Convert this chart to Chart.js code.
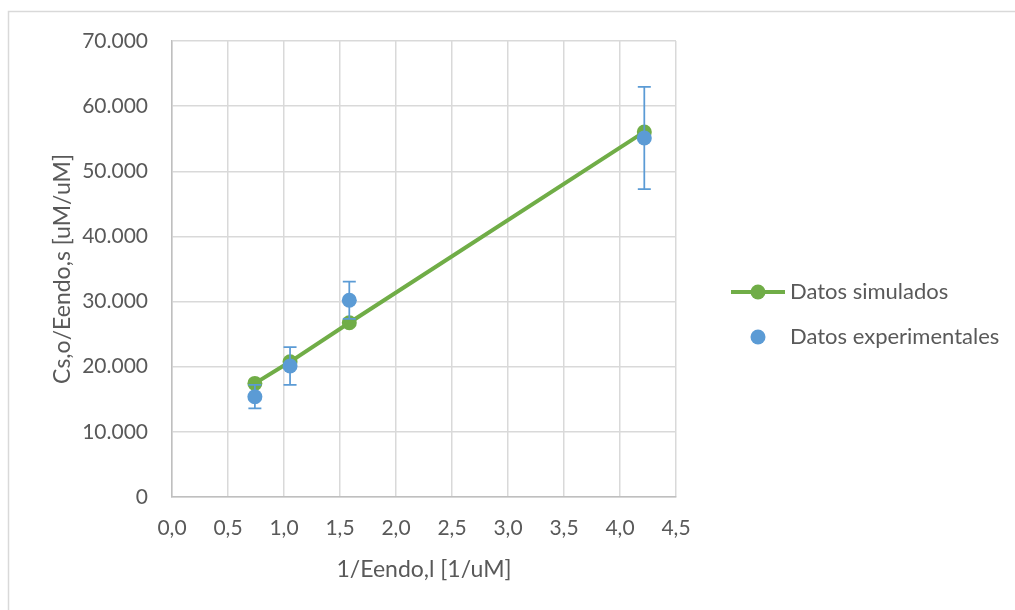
<!DOCTYPE html>
<html>
<head>
<meta charset="utf-8">
<script src="https://cdn.jsdelivr.net/npm/chart.js@4.4.1/dist/chart.umd.min.js"></script>
<style>
  html, body { margin: 0; padding: 0; background: #fff; overflow: hidden; }
  #wrap { width: 1015px; height: 610px; }
</style>
</head>
<body>
<div id="wrap"><canvas id="c" width="1015" height="610"></canvas></div>
<script>
// Simulated series (line + markers)
const simX = [0.74, 1.054, 1.583, 4.217];
const simY = [17440, 20750, 26750, 56040];

// Experimental series (markers + vertical error bars)
const expX = [0.74, 1.054, 1.583, 4.217];
const expY = [15400, 20100, 30200, 55100];
const expErr = [1800, 2900, 2850, 7850];

// Axis tick labels
const yTickLabels = ['0', '10.000', '20.000', '30.000', '40.000', '50.000', '60.000', '70.000'];
const xTickLabels = ['0,0', '0,5', '1,0', '1,5', '2,0', '2,5', '3,0', '3,5', '4,0', '4,5'];

const seriesNames = ['Datos simulados', 'Datos experimentales'];
const axisTitles = { x: '1/Eendo,l [1/uM]', y: 'Cs,o/Eendo,s [uM/uM]' };

const GREEN = '#70AD47';
const BLUE = '#5B9BD5';
const TEXT = '#595959';
const GRID = '#D9D9D9';
const FONT = 'Lato, "Open Sans", sans-serif';

const pts = (xs, ys) => xs.map((x, i) => ({ x: x, y: ys[i] }));

// White background and the frame's top/left edges
const framePlugin = {
  id: 'frame',
  beforeDraw(chart) {
    const ctx = chart.ctx;
    ctx.save();
    ctx.fillStyle = '#fff';
    ctx.fillRect(0, 0, chart.width, chart.height);
    ctx.strokeStyle = GRID;
    ctx.lineWidth = 1.5;
    ctx.beginPath();
    ctx.moveTo(8.5, chart.height);
    ctx.lineTo(8.5, 11.5);
    ctx.lineTo(chart.width, 11.5);
    ctx.stroke();
    ctx.restore();
  }
};

// Error bars drawn just before the experimental markers
const errorBarPlugin = {
  id: 'errorBars',
  beforeDatasetDraw(chart, args) {
    if (args.index !== 1) return;
    const ctx = chart.ctx;
    const xs = chart.scales.x, ys = chart.scales.y;
    ctx.save();
    ctx.strokeStyle = BLUE;
    ctx.lineWidth = 1.75;
    const cap = 6.5;
    expX.forEach((x, i) => {
      const px = xs.getPixelForValue(x);
      const top = ys.getPixelForValue(expY[i] + expErr[i]);
      const bot = ys.getPixelForValue(expY[i] - expErr[i]);
      ctx.beginPath();
      ctx.moveTo(px, top); ctx.lineTo(px, bot);
      ctx.moveTo(px - cap, top); ctx.lineTo(px + cap, top);
      ctx.moveTo(px - cap, bot); ctx.lineTo(px + cap, bot);
      ctx.stroke();
    });
    ctx.restore();
  }
};

// Legend on the right side
const legendPlugin = {
  id: 'sideLegend',
  afterDraw(chart) {
    const ctx = chart.ctx;
    ctx.save();
    ctx.font = '22px ' + FONT;
    ctx.textBaseline = 'middle';
    ctx.textAlign = 'left';
    // simulated
    let y = 292;
    ctx.strokeStyle = GREEN;
    ctx.lineWidth = 4;
    ctx.beginPath(); ctx.moveTo(731, y); ctx.lineTo(785, y); ctx.stroke();
    ctx.fillStyle = GREEN;
    ctx.beginPath(); ctx.arc(758, y, 7.5, 0, Math.PI * 2); ctx.fill();
    ctx.fillStyle = TEXT;
    ctx.fillText(seriesNames[0], 790, y);
    // experimental
    y = 337;
    ctx.fillStyle = BLUE;
    ctx.beginPath(); ctx.arc(758, y, 7.5, 0, Math.PI * 2); ctx.fill();
    ctx.fillStyle = TEXT;
    ctx.fillText(seriesNames[1], 790, y);
    ctx.restore();
  }
};

new Chart(document.getElementById('c'), {
  type: 'scatter',
  data: {
    datasets: [
      {
        label: seriesNames[0],
        data: pts(simX, simY),
        showLine: true,
        borderColor: GREEN,
        backgroundColor: GREEN,
        borderWidth: 4,
        pointRadius: 7.5,
        pointBorderWidth: 0,
        pointBackgroundColor: GREEN,
        order: 1
      },
      {
        label: seriesNames[1],
        data: pts(expX, expY),
        showLine: false,
        borderColor: BLUE,
        backgroundColor: BLUE,
        pointRadius: 7.5,
        pointBorderWidth: 0,
        pointBackgroundColor: BLUE,
        order: 0
      }
    ]
  },
  options: {
    responsive: false,
    animation: false,
    devicePixelRatio: 1,
    layout: { padding: { left: 0, top: 41, right: 339, bottom: 0 } },
    plugins: {
      legend: { display: false },
      tooltip: { enabled: false }
    },
    scales: {
      x: {
        type: 'linear',
        min: 0, max: 4.5,
        afterBuildTicks(scale) {
          scale.ticks = xTickLabels.map((_, i) => ({ value: i * 0.5 }));
        },
        afterFit(scale) { scale.height = 113; },
        ticks: {
          color: TEXT,
          font: { family: FONT, size: 21 },
          padding: 19,
          maxRotation: 0,
          autoSkip: false,
          callback: (v, i) => xTickLabels[i]
        },
        grid: { color: GRID, lineWidth: 1.5, drawTicks: false },
        border: { color: '#BFBFBF', width: 1.5 },
        title: {
          display: true,
          text: axisTitles.x,
          color: TEXT,
          font: { family: FONT, size: 23 },
          padding: { top: 0, bottom: 27 }
        }
      },
      y: {
        type: 'linear',
        min: 0, max: 70000,
        afterBuildTicks(scale) {
          scale.ticks = yTickLabels.map((_, i) => ({ value: i * 10000 }));
        },
        afterFit(scale) { scale.width = 172; },
        ticks: {
          color: TEXT,
          font: { family: FONT, size: 21 },
          padding: 24,
          autoSkip: false,
          callback: (v, i) => yTickLabels[i]
        },
        grid: { color: GRID, lineWidth: 1.5, drawTicks: false },
        border: { color: '#BFBFBF', width: 1.5 },
        title: {
          display: true,
          text: axisTitles.y,
          color: TEXT,
          font: { family: FONT, size: 23 },
          padding: { top: 49, bottom: 0 }
        }
      }
    }
  },
  plugins: [framePlugin, errorBarPlugin, legendPlugin]
});
</script>
</body>
</html>
